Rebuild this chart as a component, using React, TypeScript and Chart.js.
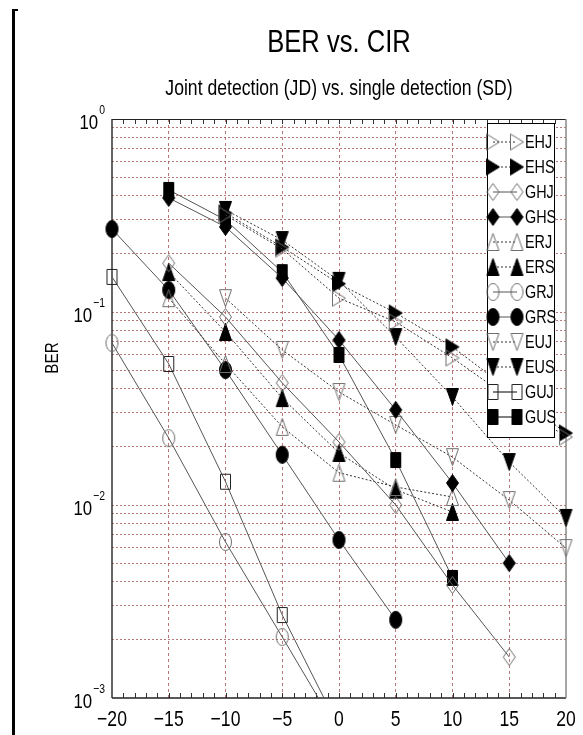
import React, { useEffect, useRef } from 'react';
import { Chart, registerables } from 'chart.js';
Chart.register(...registerables);

// ---- data ----
const CIR = [-20, -15, -10, -5, 0, 5, 10, 15, 20];
const seriesNames = ['EHJ', 'EHS', 'GHJ', 'GHS', 'ERJ', 'ERS', 'GRJ', 'GRS', 'EUJ', 'EUS', 'GUJ', 'GUS'];
const EHJ = [null, null, 0.318, 0.212, 0.118, 0.0888, 0.0578, 0.0358, 0.0225];
const EHS = [null, null, 0.326, 0.217, 0.14, 0.0988, 0.0659, 0.0394, 0.0236];
const GHJ = [null, 0.179, 0.0942, 0.0429, 0.0212, 0.01, 0.00385, 0.00163, null];
const GHS = [null, 0.39, 0.276, 0.15, 0.0716, 0.0311, 0.013, 0.005, null];
const ERJ = [null, 0.118, 0.0538, 0.0254, 0.0147, 0.0124, 0.011, null, null];
const ERS = [null, 0.161, 0.0788, 0.0358, 0.0186, 0.012, 0.0092, null, null];
const GRJ = [0.0691, 0.0222, 0.00643, 0.00207, 0.00066, null, null, null, null];
const GRS = [0.269, 0.13, 0.05, 0.0182, 0.00659, 0.00254, null, null, null];
const EUJ = [null, null, 0.118, 0.0636, 0.0385, 0.026, 0.0177, 0.0106, 0.00598];
const EUS = [null, null, 0.338, 0.236, 0.145, 0.0742, 0.0363, 0.0167, 0.00857];
const GUJ = [0.152, 0.0538, 0.0132, 0.00269, 0.0007, null, null, null, null];
const GUS = [null, 0.429, 0.3, 0.161, 0.0599, 0.0171, 0.00419, null, null];
const seriesValues = [EHJ, EHS, GHJ, GHS, ERJ, ERS, GRJ, GRS, EUJ, EUS, GUJ, GUS];

const xTickValues = [-20, -15, -10, -5, 0, 5, 10, 15, 20];
const yDecades = [1, 0.1, 0.01, 0.001];
const yDecadeExponents = ['0', '\u22121', '\u22122', '\u22123'];
const yMantissas = [1, 2, 3, 4, 5, 6, 7, 8, 9];

const titleText = 'BER vs. CIR';
const subtitleText = 'Joint detection (JD) vs. single detection (SD)';
const yAxisTitle = 'BER';

// ---- styles ----
type Shape = 'up' | 'down' | 'right' | 'diamond' | 'circle' | 'square';
const seriesStyle: Record<string, { shape: Shape; filled: boolean; dotted: boolean }> = {
  EHJ: { shape: 'right', filled: false, dotted: true },
  EHS: { shape: 'right', filled: true, dotted: true },
  GHJ: { shape: 'diamond', filled: false, dotted: false },
  GHS: { shape: 'diamond', filled: true, dotted: false },
  ERJ: { shape: 'up', filled: false, dotted: true },
  ERS: { shape: 'up', filled: true, dotted: true },
  GRJ: { shape: 'circle', filled: false, dotted: false },
  GRS: { shape: 'circle', filled: true, dotted: false },
  EUJ: { shape: 'down', filled: false, dotted: true },
  EUS: { shape: 'down', filled: true, dotted: true },
  GUJ: { shape: 'square', filled: false, dotted: false },
  GUS: { shape: 'square', filled: true, dotted: false },
};

const FONT = '"Liberation Sans", Arial, sans-serif';
const NARROW = 0.8;
const GRID = 'rgba(175, 95, 95, 0.85)';

function makeMarker(shape: Shape, filled: boolean): HTMLCanvasElement {
  const w = shape === 'square' ? 10 : shape === 'right' ? 13 : 12;
  const h = shape === 'square' ? 15 : shape === 'right' ? 16 : 17;
  const pad = 1.5;
  const c = document.createElement('canvas');
  c.width = Math.ceil(w + 2 * pad);
  c.height = Math.ceil(h + 2 * pad);
  const ctx = c.getContext('2d')!;
  const cx = c.width / 2, cy = c.height / 2;
  ctx.beginPath();
  if (shape === 'up') {
    ctx.moveTo(cx, cy - h / 2); ctx.lineTo(cx + w / 2, cy + h / 2); ctx.lineTo(cx - w / 2, cy + h / 2); ctx.closePath();
  } else if (shape === 'down') {
    ctx.moveTo(cx, cy + h / 2); ctx.lineTo(cx + w / 2, cy - h / 2); ctx.lineTo(cx - w / 2, cy - h / 2); ctx.closePath();
  } else if (shape === 'right') {
    ctx.moveTo(cx + w / 2, cy); ctx.lineTo(cx - w / 2, cy - h / 2); ctx.lineTo(cx - w / 2, cy + h / 2); ctx.closePath();
  } else if (shape === 'diamond') {
    ctx.moveTo(cx, cy - h / 2); ctx.lineTo(cx + w / 2, cy); ctx.lineTo(cx, cy + h / 2); ctx.lineTo(cx - w / 2, cy); ctx.closePath();
  } else if (shape === 'circle') {
    ctx.ellipse(cx, cy, w / 2, h / 2, 0, 0, Math.PI * 2);
  } else {
    ctx.rect(cx - w / 2, cy - h / 2, w, h);
  }
  ctx.lineWidth = 1;
  if (filled) {
    ctx.fillStyle = '#000';
    ctx.fill();
    ctx.strokeStyle = '#000';
  } else {
    ctx.strokeStyle = shape === 'square' ? '#222' : '#6e6e6e';
  }
  ctx.stroke();
  return c;
}

const fmtTick = (v: number) => (v < 0 ? '\u2212' + Math.abs(v) : String(v));

function narrowText(ctx: CanvasRenderingContext2D, text: string, x: number, y: number, size: number, align: CanvasTextAlign, baseline: CanvasTextBaseline = 'alphabetic', rot = 0) {
  ctx.save();
  ctx.translate(x, y);
  if (rot) ctx.rotate(rot);
  ctx.scale(NARROW, 1);
  ctx.font = `${size}px ${FONT}`;
  ctx.textAlign = align;
  ctx.textBaseline = baseline;
  ctx.fillStyle = '#000';
  ctx.fillText(text, 0, 0);
  ctx.restore();
}
function narrowWidth(ctx: CanvasRenderingContext2D, text: string, size: number) {
  ctx.save();
  ctx.font = `${size}px ${FONT}`;
  const w = ctx.measureText(text).width * NARROW;
  ctx.restore();
  return w;
}

export default function App() {
  const ref = useRef<HTMLCanvasElement | null>(null);
  useEffect(() => {
    if (!ref.current) return;
    const markers: Record<string, HTMLCanvasElement> = {};
    seriesNames.forEach((n) => { markers[n] = makeMarker(seriesStyle[n].shape, seriesStyle[n].filled); });

    const datasets = seriesNames.map((name, i) => {
      const st = seriesStyle[name];
      const pts = CIR.map((x, j) => ({ x, y: seriesValues[i][j] })).filter((p) => p.y !== null);
      return {
        label: name,
        data: pts,
        borderColor: st.dotted ? '#333' : '#555',
        borderWidth: 1,
        borderDash: st.dotted ? [2, 2] : [],
        pointStyle: markers[name],
        pointRadius: 8,
        pointHoverRadius: 8,
        fill: false,
        tension: 0,
        clip: { left: 12, right: 12, top: 12, bottom: 0 },
      };
    });

    const yGridValues: number[] = [];
    yDecades.forEach((d) => yMantissas.forEach((m) => { const v = d * m; if (v <= 1 + 1e-9) yGridValues.push(v); }));

    const decor = {
      id: 'decor',
      beforeDatasetsDraw(chart: any) {
        const { ctx, chartArea: a, scales } = chart;
        ctx.save();
        ctx.strokeStyle = '#333';
        ctx.lineWidth = 1;
        for (let v = -19; v <= 19; v++) {
          const px = Math.round(scales.x.getPixelForValue(v)) + 0.5;
          ctx.beginPath();
          ctx.moveTo(px, a.bottom); ctx.lineTo(px, a.bottom - 5);
          ctx.moveTo(px, a.top); ctx.lineTo(px, a.top + 5);
          ctx.stroke();
        }
        ctx.lineWidth = 1;
        ctx.strokeStyle = '#222';
        ctx.beginPath(); ctx.moveTo(a.left, a.top + 0.5); ctx.lineTo(a.right, a.top + 0.5); ctx.stroke();
        ctx.lineWidth = 1.5;
        ctx.beginPath(); ctx.moveTo(a.left, a.bottom); ctx.lineTo(a.right, a.bottom); ctx.stroke();
        ctx.strokeStyle = '#333';
        ctx.beginPath(); ctx.moveTo(a.left, a.top); ctx.lineTo(a.left, a.bottom); ctx.stroke();
        ctx.strokeStyle = '#888';
        ctx.beginPath(); ctx.moveTo(a.right, a.top); ctx.lineTo(a.right, a.bottom); ctx.stroke();
        ctx.restore();
      },
      afterDatasetsDraw(chart: any) {
        const { ctx, chartArea: a } = chart;
        ctx.save();
        const boxRight = a.right - 12;
        const boxLeft = boxRight - 67;
        const top = a.top + 4;
        const rowH = 25;
        const h = rowH * seriesNames.length + 14;
        ctx.fillStyle = '#fff';
        ctx.fillRect(boxLeft, top, boxRight - boxLeft, h);
        ctx.strokeStyle = '#000';
        ctx.lineWidth = 1;
        ctx.strokeRect(boxLeft + 0.5, top + 0.5, boxRight - boxLeft, h);
        seriesNames.forEach((n, i) => {
          const y = top + 19 + i * rowH;
          const st = seriesStyle[n];
          const x1 = boxLeft + 6, x2 = boxLeft + 30;
          ctx.strokeStyle = st.dotted ? '#333' : '#555';
          ctx.lineWidth = n === 'GUJ' || n === 'GUS' ? 1.5 : 1;
          ctx.setLineDash(st.dotted ? [2, 2] : []);
          ctx.beginPath(); ctx.moveTo(x1, y); ctx.lineTo(x2, y); ctx.stroke();
          ctx.setLineDash([]);
          const m = markers[n];
          ctx.drawImage(m, x1 - m.width / 2, y - m.height / 2);
          ctx.drawImage(m, x2 - m.width / 2, y - m.height / 2);
          narrowText(ctx, n, boxLeft + 38, y + 1, 18, 'left', 'middle');
        });
        ctx.restore();
      },
      afterDraw(chart: any) {
        const { ctx, chartArea: a, scales } = chart;
        ctx.save();
        const cx = (a.left + a.right) / 2;
        narrowText(ctx, titleText, cx, 52, 32, 'center');
        narrowText(ctx, subtitleText, cx, 95, 22, 'center');
        // x tick labels
        xTickValues.forEach((v) => {
          const px = scales.x.getPixelForValue(v);
          narrowText(ctx, fmtTick(v), px, a.bottom + 28, 22, 'center');
        });
        // y labels
        yDecades.forEach((d, i) => {
          const py = scales.y.getPixelForValue(d);
          const exp = yDecadeExponents[i];
          const right = 105;
          const ew = narrowWidth(ctx, exp, 13);
          narrowText(ctx, exp, right - ew, py - 5, 13, 'left');
          narrowText(ctx, '10', right - ew - 1, py + 10, 21, 'right');
        });
        // axis title
        narrowText(ctx, yAxisTitle, 58, 358, 19, 'center', 'alphabetic', -Math.PI / 2);
        // left bracket
        ctx.fillStyle = '#000';
        ctx.fillRect(12, 9, 3, 735 - 9);
        ctx.fillRect(12, 9, 6, 2);
        ctx.restore();
      },
    };

    const chart = new Chart(ref.current, {
      type: 'line',
      data: { datasets: datasets as any },
      options: {
        animation: false,
        responsive: false,
        devicePixelRatio: 1,
        layout: { padding: { left: 112, right: 17, top: 119, bottom: 37 } },
        plugins: { legend: { display: false }, title: { display: false }, tooltip: { enabled: false } },
        scales: {
          x: {
            type: 'linear',
            min: -20,
            max: 20,
            afterBuildTicks: (s: any) => { s.ticks = xTickValues.map((v) => ({ value: v })); },
            ticks: { display: false },
            grid: {
              color: (c: any) => (c.tick && (c.tick.value === -20 || c.tick.value === 20) ? 'rgba(0,0,0,0)' : GRID),
              lineWidth: 1,
              drawTicks: false,
            },
            border: { display: false, dash: [3, 3] },
          },
          y: {
            type: 'logarithmic',
            min: 0.001,
            max: 1,
            afterBuildTicks: (s: any) => { s.ticks = yGridValues.map((v) => ({ value: v })); },
            ticks: { display: false },
            grid: {
              color: (c: any) => (c.tick && (Math.abs(c.tick.value - 1) < 1e-9 || Math.abs(c.tick.value - 0.001) < 1e-12) ? 'rgba(0,0,0,0)' : GRID),
              lineWidth: 1,
              drawTicks: false,
            },
            border: { display: false, dash: [2, 2] },
          },
        },
      },
      plugins: [decor as any],
    });
    return () => chart.destroy();
  }, []);

  return (
    <div style={{ position: 'absolute', left: 0, top: 0, width: 583, height: 735, background: '#fff' }}>
      <canvas ref={ref} width={583} height={735} style={{ display: 'block', width: 583, height: 735 }} />
    </div>
  );
}
